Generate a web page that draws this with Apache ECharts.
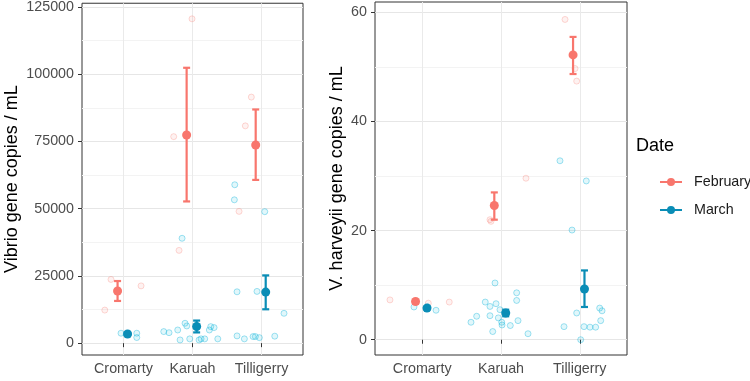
<!DOCTYPE html>
<html>
<head>
<meta charset="utf-8">
<script src="https://cdn.jsdelivr.net/npm/echarts@6.0.0/dist/echarts.min.js"></script>
<style>
html, body { margin: 0; padding: 0; background: #fff; }
#chart { width: 750px; height: 381px; }
</style>
</head>
<body>
<div id="chart"></div>
<script>
const sites = ['Cromarty', 'Karuah', 'Tilligerry']
const siteTicks = [1, 2, 3]

// Vibrio, samples: [x incl. jitter, copies/mL]
const vibrioFebPts = [[0.73, 12300], [0.82, 23700], [1.255, 21300],
  [1.728, 76800], [1.993, 120600], [1.805, 34500],
  [2.852, 91500], [2.765, 80800], [2.674, 49000]]
const vibrioMarPts = [[0.965, 3700], [1.04, 3300], [1.193, 3700], [1.193, 2100],
  [1.584, 4300], [1.66, 3900], [1.786, 4900], [1.82, 1200], [1.892, 7400], [1.917, 6400],
  [1.96, 1600], [2.095, 1200], [2.124, 1600], [2.177, 1600], [2.244, 4900], [2.264, 6150],
  [2.312, 5800], [2.366, 1600], [1.849, 39000],
  [2.612, 58900], [2.606, 53300], [3.046, 48900], [2.645, 19100], [2.934, 19250], [3.325, 11100],
  [2.645, 2700], [2.751, 1600], [2.877, 2450], [2.91, 2450], [2.968, 2050], [3.191, 2600]]
const vibrioFebMean = [19400, 77400, 73700]
const vibrioFebLo = [15700, 52700, 60700]
const vibrioFebHi = [23100, 102400, 86900]
const vibrioMarMean = [3400, 6200, 19000]
const vibrioMarLo = [2900, 4000, 12600]
const vibrioMarHi = [3900, 8400, 25200]

// V. harveyi
const harveyiFebPts = [[0.59, 7.3], [1.343, 6.9], [1.077, 6.7], [0.91, 7.0],
  [1.86, 22.0], [1.873, 21.7], [2.317, 29.6],
  [2.813, 58.7], [2.961, 47.4], [2.94, 49.7]]
const harveyiMarPts = [[0.895, 6.0], [1.175, 5.4], [1.073, 6.0], [1.056, 5.8],
  [1.619, 3.2], [1.691, 4.3], [1.8, 6.9], [1.86, 4.4], [1.86, 6.1], [1.895, 1.5], [1.924, 10.4],
  [1.937, 6.6], [1.966, 4.0], [2.009, 3.2], [2.013, 2.7], [1.987, 5.5], [2.118, 2.6], [2.199, 7.2],
  [2.199, 8.6], [2.216, 3.5], [2.343, 1.1],
  [2.749, 32.8], [3.083, 29.1], [2.902, 20.1], [2.8, 2.4], [2.961, 4.9], [3.054, 2.4], [3.13, 2.3],
  [3.202, 2.3], [3.012, 0.0], [3.253, 5.8], [3.283, 5.3], [3.266, 3.5]]
const harveyiFebMean = [7.0, 24.6, 52.2]
const harveyiFebLo = [6.6, 22.0, 48.7]
const harveyiFebHi = [7.3, 27.0, 55.5]
const harveyiMarMean = [5.8, 4.9, 9.3]
const harveyiMarLo = [5.5, 4.3, 6.0]
const harveyiMarHi = [6.1, 5.5, 12.7]

const vibrioMajor = [0, 25000, 50000, 75000, 100000, 125000]
const vibrioMinor = [12500, 37500, 62500, 87500, 112500]
const harveyiMajor = [0, 20, 40, 60]
const harveyiMinor = [10, 30, 50]

const FEB = '#F8766D'
const MAR = '#0A8DB6'
const dodge = { feb: -0.085, mar: 0.06 }
const tickFont = { color: '#4D4D4D', fontSize: 14.3, fontFamily: 'Liberation Sans, Arial, sans-serif' }
const titleFont = { color: '#000', fontSize: 18, fontFamily: 'Liberation Sans, Arial, sans-serif' }

function xAxisFor(gi) {
  return {
    type: 'value', gridIndex: gi, min: 0.4, max: 3.6,
    axisLine: { show: false },
    axisTick: { show: true, customValues: siteTicks, length: 4, lineStyle: { color: '#333' } },
    axisLabel: Object.assign({ customValues: siteTicks, margin: 7, formatter: v => sites[Math.round(v) - 1] }, tickFont),
    splitLine: { show: true, lineStyle: { color: '#EAEAEA', width: 1 } }
  }
}

function yAxesFor(gi, min, max, major, minor, name, gap) {
  return [{
    type: 'value', gridIndex: gi, min, max, name, nameLocation: 'middle', nameGap: gap,
    nameTextStyle: titleFont,
    axisLine: { show: false },
    axisTick: { show: true, customValues: major, length: 4, lineStyle: { color: '#333' } },
    axisLabel: Object.assign({ customValues: major, margin: 8, formatter: v => String(v) }, tickFont),
    splitLine: { show: true, lineStyle: { color: '#E6E6E6', width: 1 } }
  }, {
    type: 'value', gridIndex: gi, min, max,
    axisLine: { show: false },
    axisTick: { show: false, customValues: minor },
    axisLabel: { show: false },
    splitLine: { show: true, lineStyle: { color: '#F3F3F3', width: 1 } }
  }]
}

function pointSeries(name, xi, yi, pts, stroke, fill) {
  return {
    type: 'scatter', name, xAxisIndex: xi, yAxisIndex: yi, data: pts, symbolSize: 6, z: 2,
    itemStyle: { color: fill, borderColor: stroke, borderWidth: 1 },
    silent: true
  }
}

function errSeries(name, xi, yi, off, lo, hi, color) {
  return {
    type: 'custom', name, xAxisIndex: xi, yAxisIndex: yi, z: 3, silent: true,
    data: siteTicks.map((t, k) => [t + off, lo[k], hi[k]]),
    renderItem(params, api) {
      const top = api.coord([api.value(0), api.value(2)])
      const bot = api.coord([api.value(0), api.value(1)])
      const w = 3.5
      const style = { stroke: color, lineWidth: 2.2 }
      return {
        type: 'group', children: [
          { type: 'line', shape: { x1: top[0], y1: top[1], x2: bot[0], y2: bot[1] }, style },
          { type: 'line', shape: { x1: top[0] - w, y1: top[1], x2: top[0] + w, y2: top[1] }, style },
          { type: 'line', shape: { x1: bot[0] - w, y1: bot[1], x2: bot[0] + w, y2: bot[1] }, style }
        ]
      }
    }
  }
}

function meanSeries(name, xi, yi, off, mean, color) {
  return {
    type: 'scatter', name, xAxisIndex: xi, yAxisIndex: yi, z: 4, symbolSize: 9,
    data: siteTicks.map((t, k) => [t + off, mean[k]]),
    itemStyle: { color, opacity: 1 }
  }
}

const chart = echarts.init(document.getElementById('chart'))
chart.setOption({
  animation: false,
  backgroundColor: '#fff',
  title: {
    text: 'Date', left: 636, top: 137, padding: 0,
    textStyle: Object.assign({ fontWeight: 'normal' }, titleFont)
  },
  legend: {
    data: ['February', 'March'], orient: 'vertical', left: 655, top: 170,
    itemWidth: 22, itemHeight: 8, itemGap: 14,
    icon: 'path://M0,3h22v2H0z M11,0a4,4 0 1,1 0,8a4,4 0 1,1 0,-8z',
    textStyle: { color: '#1A1A1A', fontSize: 14.3, fontFamily: 'Liberation Sans, Arial, sans-serif', padding: [0, 0, 0, 7] },
    selectedMode: false
  },
  grid: [
    { left: 82, top: 2, width: 221, height: 353, show: true, borderColor: '#333', borderWidth: 1, backgroundColor: 'transparent' },
    { left: 375, top: 2, width: 252, height: 353, show: true, borderColor: '#333', borderWidth: 1, backgroundColor: 'transparent' }
  ],
  xAxis: [xAxisFor(0), xAxisFor(1)],
  yAxis: [
    ...yAxesFor(0, -4400, 126400, vibrioMajor, vibrioMinor, 'Vibrio gene copies / mL', 61),
    ...yAxesFor(1, -2.8, 61.9, harveyiMajor, harveyiMinor, 'V. harveyii gene copies / mL', 29)
  ],
  series: [
    pointSeries('Feb samples', 0, 0, vibrioFebPts, 'rgba(248,118,109,0.35)', 'rgba(248,118,109,0.12)'),
    pointSeries('Mar samples', 0, 0, vibrioMarPts, 'rgba(0,175,215,0.45)', 'rgba(0,190,225,0.15)'),
    errSeries('Feb se', 0, 0, dodge.feb, vibrioFebLo, vibrioFebHi, FEB),
    errSeries('Mar se', 0, 0, dodge.mar, vibrioMarLo, vibrioMarHi, MAR),
    meanSeries('February', 0, 0, dodge.feb, vibrioFebMean, FEB),
    meanSeries('March', 0, 0, dodge.mar, vibrioMarMean, MAR),

    pointSeries('Feb samples', 1, 2, harveyiFebPts, 'rgba(248,118,109,0.35)', 'rgba(248,118,109,0.12)'),
    pointSeries('Mar samples', 1, 2, harveyiMarPts, 'rgba(0,175,215,0.45)', 'rgba(0,190,225,0.15)'),
    errSeries('Feb se', 1, 2, dodge.feb, harveyiFebLo, harveyiFebHi, FEB),
    errSeries('Mar se', 1, 2, dodge.mar, harveyiMarLo, harveyiMarHi, MAR),
    meanSeries('February', 1, 2, dodge.feb, harveyiFebMean, FEB),
    meanSeries('March', 1, 2, dodge.mar, harveyiMarMean, MAR)
  ]
})
</script>
</body>
</html>
